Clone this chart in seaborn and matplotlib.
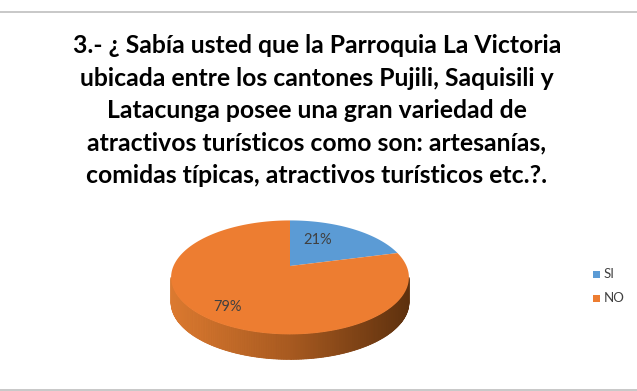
import numpy as np
import matplotlib
matplotlib.use("Agg")
import matplotlib.pyplot as plt
import seaborn as sns
from matplotlib.patches import Polygon, Rectangle
from matplotlib.lines import Line2D

sns.set_theme(style="white")
plt.rcParams['font.family'] = ['Lato', 'DejaVu Sans']

# ---- data ----
categories = ["SI", "NO"]
values = [21, 79]
labels = ["21%", "79%"]
title_lines = [
    "3.- ¿ Sabía usted que la Parroquia La Victoria",
    "ubicada entre los cantones Pujili, Saquisili y",
    "Latacunga posee una gran variedad de",
    "atractivos turísticos como son: artesanías,",
    "comidas típicas, atractivos turísticos etc.?.",
]

colors = ["#5B9BD5", "#ED7D31"]

W, H = 637, 391
fig = plt.figure(figsize=(W / 100, H / 100), dpi=100)
ax = fig.add_axes([0, 0, 1, 1])
ax.set_xlim(0, W)
ax.set_ylim(H, 0)
ax.axis("off")

# frame lines (top and bottom)
ax.add_line(Line2D([0, W], [11.5, 11.5], color="#BFBFBF", lw=1.2))
ax.add_line(Line2D([0, W], [389.5, 389.5], color="#BFBFBF", lw=1.2))

# title
y0, dy = 53.0, 32.5
for i, line in enumerate(title_lines):
    ax.text(317, y0 + i * dy, line, ha="center", va="baseline",
            fontsize=17.8, fontweight="bold", color="black")

# ---- perspective pie ----
VX, VY = 290.0, 266.0   # pixel of pie vertex
SX, SY = 116.5, 54.7    # pixels per unit
K = 0.2                 # perspective factor
THICK = 25.0


def proj(t):
    u, v = np.cos(t), np.sin(t)
    d = 1 + K * v
    return VX + SX * u / d, VY - SY * v / d


# side (front wall) with gradient
t_side = np.linspace(np.pi + 0.2, 2 * np.pi - 0.2, 160)
xs, ys = proj(t_side)
side_poly = np.column_stack([np.r_[xs, xs[::-1]], np.r_[ys, ys[::-1] + THICK]])
c_left = np.array([0xDC, 0x7A, 0x30]) / 255
c_mid = np.array([0xA8, 0x5A, 0x20]) / 255
c_right = np.array([0x5E, 0x31, 0x0E]) / 255
ax.add_patch(Polygon(side_poly, closed=True, fc=c_mid, ec="none"))
xmin, xmax = xs.min(), xs.max()
for i in range(len(t_side) - 1):
    f = ((xs[i] + xs[i + 1]) / 2 - xmin) / (xmax - xmin)
    if f < 0.5:
        c = c_left + (c_mid - c_left) * (f / 0.5)
    else:
        c = c_mid + (c_right - c_mid) * ((f - 0.5) / 0.5)
    quad = [(xs[i], ys[i]), (xs[i + 1], ys[i + 1]),
            (xs[i + 1], ys[i + 1] + THICK), (xs[i], ys[i] + THICK)]
    ax.add_patch(Polygon(quad, closed=True, fc=c, ec=c, lw=0.6))

# top faces: slices clockwise from 90°
total = float(sum(values))
start = np.pi / 2
label_pos = [(318, 240), (228, 307)]
for val, col, lab, (lx, ly) in zip(values, colors, labels, label_pos):
    sweep = 2 * np.pi * val / total
    t = np.linspace(start, start - sweep, 200)
    px, py = proj(t)
    poly = np.column_stack([np.r_[VX, px], np.r_[VY, py]])
    ax.add_patch(Polygon(poly, closed=True, fc=col, ec="none"))
    ax.text(lx, ly, lab, ha="center", va="center", fontsize=10.5,
            color="#404040")
    start -= sweep

# legend
for i, (cat, col) in enumerate(zip(categories, colors)):
    yy = 274 + i * 24
    ax.add_patch(Rectangle((593, yy - 3.5), 7, 7, fc=col, ec="none"))
    ax.text(604, yy, cat, ha="left", va="center", fontsize=9.5,
            color="#404040")

fig.savefig("out.png", dpi=100, facecolor="white")
